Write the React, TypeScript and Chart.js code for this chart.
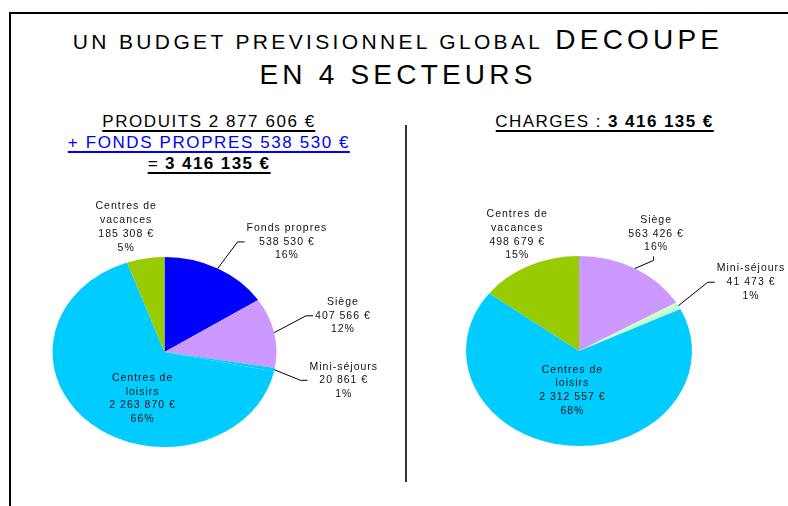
import React, { useEffect, useRef } from 'react';
import { Chart, registerables } from 'chart.js';

Chart.register(...registerables);

// ---- Data ----
const produitsLabels = ['Fonds propres', 'Siège', 'Mini-séjours', 'Centres de loisirs', 'Centres de vacances'];
const produitsValues = [538530, 407566, 20861, 2263870, 185308];
const produitsColors = ['#0000FF', '#CC99FF', '#00CCFF', '#00CCFF', '#99CC00'];

const chargesLabels = ['Siège', 'Mini-séjours', 'Centres de loisirs', 'Centres de vacances'];
const chargesValues = [563426, 41473, 2312557, 498679];
const chargesColors = ['#CC99FF', '#CCFFCC', '#00CCFF', '#99CC00'];

const titleLine1Small = 'UN BUDGET PREVISIONNEL GLOBAL';
const titleLine1Big = 'DECOUPE';
const titleLine2 = 'EN 4 SECTEURS';
const produitsHead = 'PRODUITS 2 877 606 €';
const fondsHead = '+ FONDS PROPRES 538 530 €';
const totalHeadPrefix = '= ';
const totalHead = '3 416 135 €';
const chargesHeadPrefix = 'CHARGES : ';
const chargesHead = '3 416 135 €';

// ---- Label layout (relative to each slice's mid-angle) ----
type Placement = { mode: 'right' | 'above' | 'free'; shift: number; r: number };
const produitsPlacement: Placement[] = [
  { mode: 'right', shift: 1, r: 1.33 },
  { mode: 'right', shift: -5, r: 1.32 },
  { mode: 'right', shift: 3, r: 1.25 },
  { mode: 'free', shift: -19, r: 0.53 },
  { mode: 'free', shift: -5, r: 1.36 },
];
const chargesPlacement: Placement[] = [
  { mode: 'above', shift: 5, r: 1.16 },
  { mode: 'right', shift: -4, r: 1.35 },
  { mode: 'free', shift: 3, r: 0.42 },
  { mode: 'free', shift: 2, r: 1.34 },
];

const FONT = '"Liberation Sans", Arial, Helvetica, sans-serif';

function fmtEuro(n: number): string {
  return String(n).replace(/\B(?=(\d{3})+(?!\d))/g, ' ') + ' €';
}
function nameLines(name: string): string[] {
  const m = name.match(/^(Centres de) (.*)$/);
  return m ? [m[1], m[2]] : [name];
}

const ellipsePlugin = {
  id: 'ellipse',
  beforeDatasetsDraw(chart: any, _args: any, opts: any) {
    const arc = chart.getDatasetMeta(0).data[0];
    if (!arc) return;
    const ctx = chart.ctx;
    ctx.save();
    ctx.translate(arc.x, arc.y);
    ctx.scale(1, opts.ratio);
    ctx.translate(-arc.x, -arc.y);
  },
  afterDatasetsDraw(chart: any) {
    chart.ctx.restore();
  },
  afterDraw(chart: any, _args: any, opts: any) {
    const ctx = chart.ctx as CanvasRenderingContext2D;
    const meta = chart.getDatasetMeta(0);
    const values: number[] = chart.data.datasets[0].data;
    const labels: string[] = chart.data.labels;
    const total = values.reduce((a, b) => a + b, 0);
    const placement: Placement[] = opts.placement;
    const lh = 13.7;
    ctx.save();
    ctx.font = `10.5px ${FONT}`;
    (ctx as any).letterSpacing = '1px';
    ctx.fillStyle = '#111';
    ctx.strokeStyle = '#000';
    ctx.lineWidth = 1;
    ctx.textAlign = 'center';
    ctx.textBaseline = 'middle';
    meta.data.forEach((arc: any, i: number) => {
      const { x: cx, y: cy, startAngle, endAngle, outerRadius } = arc.getProps(
        ['x', 'y', 'startAngle', 'endAngle', 'outerRadius'],
        true
      );
      const rx = outerRadius;
      const ry = outerRadius * opts.ratio;
      const mid = (startAngle + endAngle) / 2;
      const p = placement[i];
      const pt = (a: number, r: number) => ({ x: cx + rx * r * Math.cos(a), y: cy + ry * r * Math.sin(a) });
      const lines = [
        ...nameLines(labels[i]),
        fmtEuro(values[i]),
        Math.round((values[i] / total) * 100) + '%',
      ];
      const drawBlock = (centerX: number, centerY: number) => {
        const top = centerY - ((lines.length - 1) * lh) / 2;
        lines.forEach((t, k) => ctx.fillText(t, centerX + 0.5, top + k * lh));
      };
      const shifted = mid + (p.shift * Math.PI) / 180;
      if (p.mode === 'free') {
        const c = pt(shifted, p.r);
        drawBlock(c.x, c.y);
        return;
      }
      const s = pt(mid, 1);
      const e = pt(shifted, p.r);
      ctx.beginPath();
      ctx.moveTo(s.x, s.y);
      ctx.lineTo(e.x, e.y);
      if (p.mode === 'right') {
        ctx.lineTo(e.x + 7, e.y);
        ctx.stroke();
        const w = Math.max(...lines.map((t) => ctx.measureText(t).width)) - 1;
        drawBlock(e.x + 9 + w / 2, e.y);
      } else {
        ctx.lineTo(e.x, e.y - 4);
        ctx.stroke();
        const lastY = e.y - 13;
        drawBlock(e.x + 2, lastY - ((lines.length - 1) * lh) / 2);
      }
    });
    ctx.restore();
  },
};

type PieProps = {
  labels: string[];
  values: number[];
  colors: string[];
  placement: Placement[];
  left: number;
  top: number;
  width: number;
  height: number;
  cx: number;
  cy: number;
  rx: number;
  ry: number;
};

function EllipsePie(props: PieProps) {
  const ref = useRef<HTMLCanvasElement>(null);
  useEffect(() => {
    if (!ref.current) return;
    const { width, height, cx, cy, rx, ry } = props;
    const lx = cx - props.left;
    const ly = cy - props.top;
    const chart = new Chart(ref.current, {
      type: 'pie',
      data: {
        labels: props.labels,
        datasets: [
          {
            data: props.values,
            backgroundColor: props.colors,
            borderWidth: 0,
          },
        ],
      },
      options: {
        responsive: false,
        animation: false,
        events: [],
        layout: {
          padding: { left: lx - rx, right: width - lx - rx, top: ly - rx, bottom: height - ly - rx },
        },
        plugins: {
          legend: { display: false },
          tooltip: { enabled: false },
          title: { display: false },
          ellipse: { ratio: ry / rx, placement: props.placement },
        } as any,
      },
      plugins: [ellipsePlugin as any],
    });
    return () => chart.destroy();
  }, []);
  return (
    <canvas
      ref={ref}
      width={props.width}
      height={props.height}
      style={{ position: 'absolute', left: props.left, top: props.top, width: props.width, height: props.height }}
    />
  );
}

const headStyle = (top: number, centerX: number, color: string, ls: number): React.CSSProperties => ({
  position: 'absolute',
  top,
  left: centerX,
  transform: 'translateX(-50%)',
  whiteSpace: 'nowrap',
  fontFamily: FONT,
  fontSize: 17,
  lineHeight: '16px',
  letterSpacing: ls,
  color,
  borderBottom: `2px solid ${color}`,
});

export default function App() {
  return (
    <div
      style={{
        position: 'fixed',
        left: 0,
        top: 0,
        width: 788,
        height: 506,
        background: '#fff',
        overflow: 'hidden',
        fontFamily: FONT,
      }}
    >
      {/* frame */}
      <div
        style={{
          position: 'absolute',
          left: 9,
          top: 12,
          width: 800,
          height: 520,
          borderTop: '2px solid #000',
          borderLeft: '2px solid #000',
        }}
      />
      {/* title */}
      <div
        style={{
          position: 'absolute',
          top: 26.3,
          left: 398,
          transform: 'translateX(-50%)',
          whiteSpace: 'nowrap',
          fontSize: 28,
          lineHeight: '28px',
          letterSpacing: 4.2,
          color: '#000',
        }}
      >
        <span style={{ fontSize: 21, lineHeight: '21px', letterSpacing: 3.35 }}>{titleLine1Small}</span>
        {' '}
        {titleLine1Big}
      </div>
      <div
        style={{
          position: 'absolute',
          top: 61.3,
          left: 398,
          transform: 'translateX(-50%)',
          whiteSpace: 'nowrap',
          fontSize: 28,
          lineHeight: '28px',
          letterSpacing: 4.2,
          color: '#000',
        }}
      >
        {titleLine2}
      </div>
      {/* left heading */}
      <div style={headStyle(114.4, 209, '#000', 1.55)}>{produitsHead}</div>
      <div style={headStyle(135.4, 209, '#0000FF', 1.6)}>{fondsHead}</div>
      <div style={headStyle(155.6, 209, '#000', 1.4)}>
        {totalHeadPrefix}
        <b>{totalHead}</b>
      </div>
      {/* right heading */}
      <div style={headStyle(113.8, 604.5, '#000', 1.45)}>
        {chargesHeadPrefix}
        <b>{chargesHead}</b>
      </div>
      {/* divider */}
      <div style={{ position: 'absolute', left: 405, top: 125, width: 1.5, height: 357, background: '#333' }} />
      <EllipsePie
        labels={produitsLabels}
        values={produitsValues}
        colors={produitsColors}
        placement={produitsPlacement}
        left={0}
        top={180}
        width={404}
        height={320}
        cx={164.5}
        cy={352}
        rx={112}
        ry={95}
      />
      <EllipsePie
        labels={chargesLabels}
        values={chargesValues}
        colors={chargesColors}
        placement={chargesPlacement}
        left={404}
        top={180}
        width={384}
        height={320}
        cx={579}
        cy={351}
        rx={113}
        ry={95}
      />
    </div>
  );
}
